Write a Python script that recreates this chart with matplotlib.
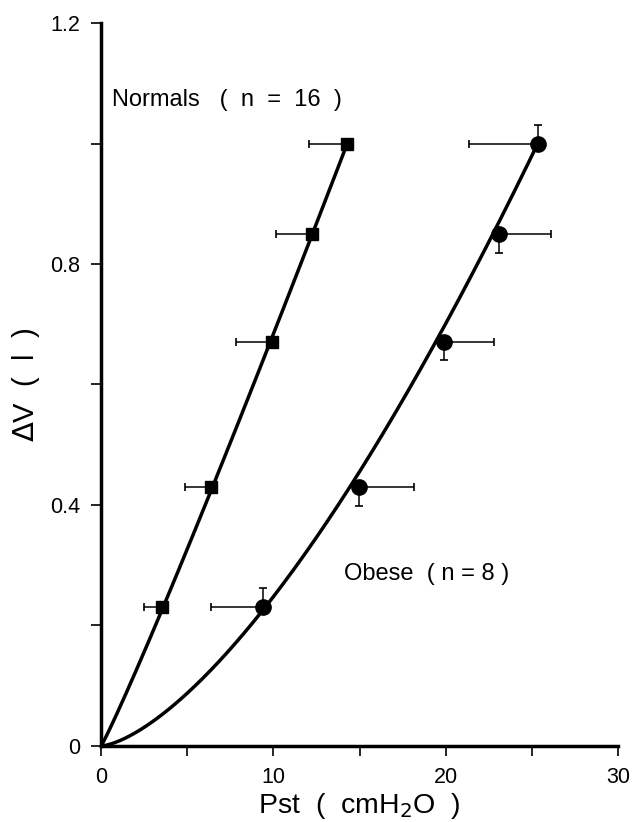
import numpy as np
import matplotlib
matplotlib.use("Agg")
import matplotlib.pyplot as plt

plt.rcParams['font.family'] = ['Liberation Sans', 'DejaVu Sans']

# Static pressure-volume data (mean values with SE)
normals_pst = [3.56, 6.38, 9.92, 12.21, 14.28]
normals_dv = [0.23, 0.43, 0.67, 0.85, 1.00]
normals_pst_err_lo = [1.10, 1.53, 2.09, 2.06, 2.22]

obese_pst = [9.40, 14.96, 19.87, 23.06, 25.33]
obese_dv = [0.23, 0.43, 0.67, 0.85, 1.00]
obese_pst_err_lo = [3.00, 0.0, 0.0, 0.0, 4.01]
obese_pst_err_hi = [0.0, 3.20, 2.90, 3.04, 0.0]
obese_dv_err_lo = [0.0, 0.031, 0.030, 0.031, 0.0]
obese_dv_err_hi = [0.033, 0.0, 0.0, 0.0, 0.030]

# Power-law fits  dV = a * Pst**b
normals_fit = (0.0589, 1.065)
obese_fit = (0.00784, 1.5)

x_ticks = [0, 5, 10, 15, 20, 25, 30]
x_ticklabels = ['0', '', '10', '', '20', '', '30']
y_ticks = [0, 0.2, 0.4, 0.6, 0.8, 1.0, 1.2]
y_ticklabels = ['0', '', '0.4', '', '0.8', '', '1.2']

fig = plt.figure(figsize=(6.32, 8.22), dpi=100)
ax = fig.add_axes([0.160, 0.0925, 0.818, 0.8795])

# fitted curves
for (a, b), xs in ((normals_fit, normals_pst), (obese_fit, obese_pst)):
    xx = np.linspace(0, xs[-1], 300)
    ax.plot(xx, a * xx ** b, color='black', lw=2.5, solid_capstyle='round', zorder=3)

# error bars
ebar_kw = dict(fmt='none', ecolor='black', elinewidth=1.1, capsize=3.0, capthick=1.2, zorder=2)
ax.errorbar(normals_pst, normals_dv, xerr=[normals_pst_err_lo, [0] * 5], **ebar_kw)
ax.errorbar(obese_pst, obese_dv, xerr=[obese_pst_err_lo, obese_pst_err_hi],
            yerr=[obese_dv_err_lo, obese_dv_err_hi], **ebar_kw)

# markers
ax.plot(normals_pst, normals_dv, 's', color='black', ms=9, zorder=4)
ax.plot(obese_pst, obese_dv, 'o', color='black', ms=11, zorder=4)

ax.text(0.64, 1.072, 'Normals   (  n  =  16  )', fontsize=17, va='center', ha='left')
ax.text(14.07, 0.285, 'Obese  ( n = 8 )', fontsize=17, va='center', ha='left')

ax.set_xlim(0, 30)
ax.set_ylim(0, 1.2)
ax.set_xticks(x_ticks)
ax.set_xticklabels(x_ticklabels)
ax.set_yticks(y_ticks)
ax.set_yticklabels(y_ticklabels)

for s in ('top', 'right'):
    ax.spines[s].set_visible(False)
for s in ('left', 'bottom'):
    ax.spines[s].set_linewidth(2.5)

ax.tick_params(axis='both', direction='out', length=7, width=1.2, labelsize=15.5)
ax.tick_params(axis='x', pad=8)
ax.tick_params(axis='y', pad=8)

ax.set_xlabel('Pst  (  cmH$_2$O  )', fontsize=20.5, labelpad=2)
ax.set_ylabel('$\\Delta$V  (  l  )', fontsize=21, labelpad=6)

fig.savefig('out.png', dpi=100)
